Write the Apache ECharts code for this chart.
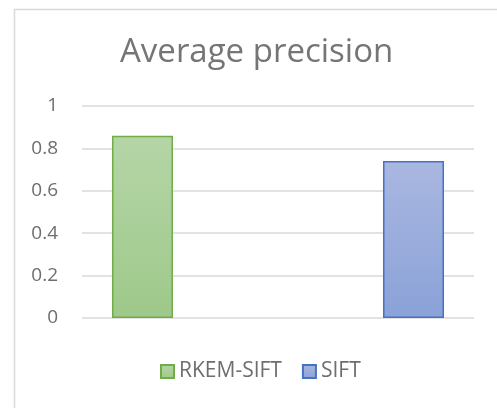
<!DOCTYPE html>
<html>
<head>
<meta charset="utf-8">
<script src="https://cdn.jsdelivr.net/npm/echarts@6/dist/echarts.min.js"></script>
<style>html,body{margin:0;padding:0;background:#fff;}#c{width:497px;height:408px;}</style>
</head>
<body>
<div id="c"></div>
<script>
const categories = ['', ''];
const seriesNames = ['RKEM-SIFT', 'SIFT'];
const rkemValues = [0.86, null];
const siftValues = [null, 0.74];
const yTicks = { min: 0, max: 1, interval: 0.2 };

const font = '"Open Sans", sans-serif';
const chart = echarts.init(document.getElementById('c'));
function grad(top, bottom) {
  return new echarts.graphic.LinearGradient(0, 0, 0, 1, [
    { offset: 0, color: top }, { offset: 1, color: bottom }
  ]);
}
chart.setOption({
  animation: false,
  backgroundColor: '#fff',
  graphic: [{
    type: 'rect', left: 12, top: 7, silent: true,
    shape: { x: 0, y: 0, width: 500, height: 400 },
    style: { fill: 'none', stroke: '#d9d9d9', lineWidth: 1.5 }
  }],
  title: {
    text: 'Average precision', left: 115, top: 31,
    textStyle: { fontFamily: font, fontSize: 33, fontWeight: 'normal', color: '#757575' }
  },
  legend: {
    bottom: 21, left: 155, itemWidth: 13, itemHeight: 13, itemGap: 20, itemTextGap: 6,
    icon: 'rect',
    textStyle: { fontFamily: font, fontSize: 21, color: '#6e6e6e' },
    data: seriesNames
  },
  grid: { left: 82, right: 23, top: 106, bottom: 90 },
  xAxis: {
    type: 'category', data: categories,
    axisLine: { show: false }, axisTick: { show: false }, axisLabel: { show: false }
  },
  yAxis: {
    type: 'value', min: yTicks.min, max: yTicks.max, interval: yTicks.interval,
    axisLine: { show: false }, axisTick: { show: false },
    axisLabel: { fontFamily: font, fontSize: 19, color: '#6e6e6e', margin: 24 },
    splitLine: { lineStyle: { color: '#d9d9d9', width: 1.5 } }
  },
  series: [
    {
      name: seriesNames[0], type: 'bar', data: rkemValues, barWidth: 61, barGap: '23%',
      itemStyle: { color: grad('#b5d5a7', '#9ec98a'), borderColor: '#70ad47', borderWidth: 1.5 }
    },
    {
      name: seriesNames[1], type: 'bar', data: siftValues, barWidth: 61,
      itemStyle: { color: grad('#aab7e0', '#8aa2d8'), borderColor: '#4472c4', borderWidth: 1.5 }
    }
  ]
});
</script>
</body>
</html>
